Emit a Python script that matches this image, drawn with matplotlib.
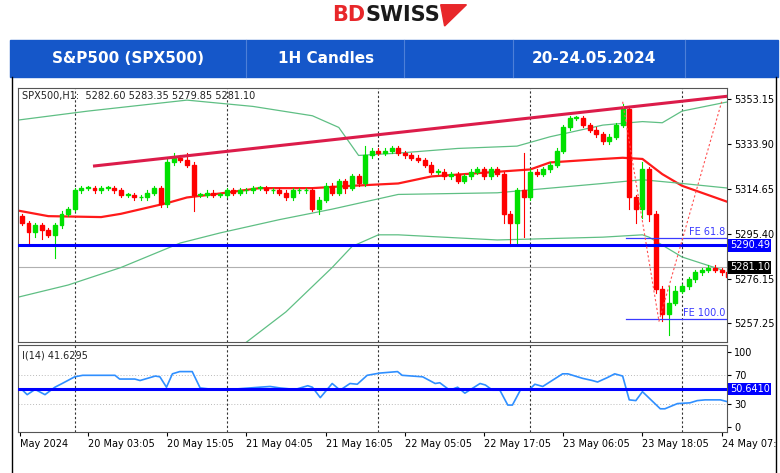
import numpy as np
import matplotlib.pyplot as plt
from matplotlib.patches import Rectangle, Polygon

# ---- candle data (hourly closes) ----
closes = [5300, 5296, 5299, 5297, 5295, 5299, 5304, 5306, 5314, 5315,
          5315, 5314, 5315, 5315, 5314, 5312, 5312, 5311, 5311, 5313,
          5315, 5308, 5326, 5328, 5327, 5325, 5312, 5312, 5313, 5312,
          5312, 5314, 5313, 5314, 5314, 5315, 5315, 5314, 5314, 5313,
          5311, 5314, 5314, 5314, 5306, 5310, 5316, 5313, 5318, 5315,
          5320, 5317, 5329, 5331, 5330, 5331, 5332, 5330, 5329, 5328,
          5327, 5325, 5322, 5322, 5320, 5321, 5318, 5320, 5322, 5323,
          5320, 5323, 5321, 5304, 5300, 5314, 5311, 5322, 5321, 5323,
          5325, 5331, 5341, 5345, 5345, 5342, 5340, 5338, 5335, 5337,
          5342, 5349, 5311, 5306, 5323, 5304, 5272, 5261, 5266, 5271,
          5273, 5276, 5279, 5280, 5281, 5280, 5279, 5277]
first_open = 5303
wick_up = [1, 1, 1, 1, 1, 1, 1, 1, 1, 1, 1, 1, 1, 1, 1, 1, 1, 1, 1, 1,
           1, 1, 2, 2, 1, 3, 1, 1, 1, 1, 1, 1, 1, 1, 1, 1, 1, 1, 1, 1,
           1, 1, 1, 1, 1, 1, 1, 1, 1, 1, 1, 1, 4, 1, 1, 1, 1, 1, 1, 1,
           1, 1, 1, 1, 1, 1, 1, 1, 1, 1, 1, 1, 1, 1, 1, 1, 16, 1, 1, 1,
           1, 1, 1, 1, 1, 1, 1, 1, 1, 1, 1, 2, 1, 1, 3, 1, 1, 1, 7, 2,
           1, 1, 1, 1, 1, 1, 1, 1]
wick_dn = [1, 5, 2, 4, 1, 10, 1, 1, 1, 1, 1, 1, 1, 1, 1, 1, 1, 1, 1, 1,
           1, 1, 1, 1, 1, 1, 7, 1, 1, 1, 1, 1, 1, 1, 1, 1, 1, 1, 1, 1,
           1, 1, 1, 1, 1, 2, 1, 1, 1, 2, 1, 1, 1, 1, 1, 1, 1, 1, 1, 1,
           1, 1, 1, 1, 1, 1, 1, 1, 1, 1, 1, 1, 1, 4, 10, 9, 17, 1, 1, 1,
           1, 1, 1, 1, 1, 1, 1, 1, 1, 1, 1, 1, 5, 6, 4, 3, 2, 3, 9, 1,
           1, 1, 1, 1, 1, 1, 1, 1]

# ---- indicator lines (sampled from the chart) ----
ma_idx = [-1, 4, 12, 15, 22, 25, 30, 36, 44, 50, 57, 62, 72, 77, 80, 88, 91, 94, 97, 100, 103, 107]
ma_val = [5305.6, 5303, 5302.6, 5304, 5308.6, 5311, 5312.7, 5315, 5315, 5316, 5317,
          5320, 5322, 5323, 5326, 5327.5, 5328, 5327.5, 5321, 5316, 5313, 5309]
bb_up_idx = [-1, 10, 25, 35, 44, 48, 51, 57, 66, 75, 80, 88, 94, 97, 100, 107]
bb_up_val = [5344, 5348, 5352.7, 5350, 5346, 5341, 5329, 5330, 5332, 5333, 5337,
             5342, 5343.5, 5343, 5348, 5352]
bb_mid_idx = [-1, 7, 15, 24, 30, 39, 47, 57, 72, 88, 94, 100, 107]
bb_mid_val = [5268, 5273.5, 5281, 5291.5, 5295.8, 5301.5, 5306, 5312.3, 5313, 5317,
              5318.6, 5317, 5315]
bb_lo_idx = [34, 40, 47, 50, 54, 57, 72, 88, 94, 95, 100, 106]
bb_lo_val = [5249, 5262, 5281, 5290, 5295, 5295, 5292.8, 5294, 5295, 5294, 5285.5, 5280]

rsi_idx = [0.1, 0.8, 2, 3.5, 5, 6.1, 8, 9.2, 14.1, 14.8, 17.1, 17.9, 20.2, 20.9, 21.9,
           22.8, 23.9, 25.8, 27, 30, 31.5, 36, 37.6, 39.1, 41.4, 43.3, 44, 45.2, 47,
           48.2, 49.7, 50.8, 52.3, 54.2, 56.9, 57.6, 60.7, 62.6, 63.3, 64.8, 66, 67.1,
           69.4, 70.2, 71.3, 72.4, 73.6, 74.3, 75.5, 77, 77.7, 78.9, 81.9, 82.7, 84.9,
           86.4, 87.2, 88.7, 89.8, 91, 92, 93, 94, 96.7, 97.4, 99.3, 101.2, 102.3,
           103.5, 105.8, 107.1]
rsi_val = [49, 43, 50, 43, 53, 58, 67, 69, 69, 64, 64, 62, 68, 67, 53, 71, 74, 74, 52,
           49, 50, 53, 54, 52, 50, 55, 53, 39, 58, 49, 58, 57, 69, 72, 74, 69, 67, 58,
           59, 49, 53, 45, 58, 56, 49, 49, 29, 29, 49, 51, 57, 54, 71, 71, 65, 62, 60,
           66, 71, 68, 36, 35, 47, 24, 24, 31, 32, 35, 36, 36, 33]

support = 5290.49
last_price = 5281.10
trend_idx = [11, 107]
trend_val = [5324.5, 5354.4]
fe_idx = [91.5, 107]
fe618 = 5293.6
fe100 = 5259.0
fe_path_idx = [91, 96.5, 106]
fe_path_val = [5352, 5258, 5352]
price_ticks = [5353.15, 5333.90, 5314.65, 5295.40, 5276.15, 5257.25]
sep_idx = [8, 31, 54, 77, 100]
date_idx = [-0.3, 10, 22, 34, 46, 58, 70, 82, 94, 106]
date_lbl = ["May 2024", "20 May 03:05", "20 May 15:05", "21 May 04:05", "21 May 16:05",
            "22 May 05:05", "22 May 17:05", "23 May 06:05", "23 May 18:05", "24 May 07:"]

fig = plt.figure(figsize=(7.8, 4.73), dpi=100)
fs = 7

# header logo
fig.text(0.468, 0.968, "BD", color="#e8272a", fontsize=15, fontweight="bold", ha="right", va="center")
fig.text(0.468, 0.968, "SWISS", color="#1a1a1a", fontsize=15, fontweight="bold", ha="left", va="center")
fig.patches.append(Polygon([[0.565, 0.99], [0.598, 0.99], [0.57, 0.945]], closed=True,
                           transform=fig.transFigure, color="#e8272a"))

# banner
fig.patches.append(Rectangle((0.013, 0.838), 0.984, 0.078, transform=fig.transFigure,
                             color="#1557c9", zorder=1))
for xs in [0.315, 0.518, 0.658, 0.878]:
    fig.lines.append(plt.Line2D([xs, xs], [0.838, 0.916], transform=fig.transFigure,
                                color="#4d7fd8", lw=0.8, zorder=2))
for xt, t in [(0.164, "S&P500 (SPX500)"), (0.418, "1H Candles"), (0.762, "20-24.05.2024")]:
    fig.text(xt, 0.877, t, color="white", fontsize=11, fontweight="bold", ha="center", va="center")
for xs in [0.016, 0.995]:
    fig.lines.append(plt.Line2D([xs, xs], [0.0, 0.838], transform=fig.transFigure, color="black", lw=1))

ax = fig.add_axes([0.023, 0.277, 0.909, 0.537])
ax2 = fig.add_axes([0.023, 0.087, 0.909, 0.184])

n = len(closes)
opens = [first_open] + closes[:-1]
for i in range(n):
    o, c = opens[i], closes[i]
    col = "#00e000" if c >= o else "#ff0000"
    hi = max(o, c) + wick_up[i]
    lo = min(o, c) - wick_dn[i]
    ax.plot([i, i], [lo, hi], color=col, lw=0.8, zorder=3)
    ax.add_patch(Rectangle((i - 0.3, min(o, c)), 0.6, max(abs(c - o), 0.4), color=col, zorder=4))

ax.plot(ma_idx, ma_val, color="#ff1a1a", lw=1.6, zorder=2)
for xi, yv in [(bb_up_idx, bb_up_val), (bb_mid_idx, bb_mid_val), (bb_lo_idx, bb_lo_val)]:
    ax.plot(xi, yv, color="#5fbf84", lw=0.9, zorder=2)
ax.plot(trend_idx, trend_val, color="#dc1c4a", lw=2.2, zorder=5)
ax.axhline(support, color="#0000ff", lw=2.2, zorder=5)
ax.axhline(last_price, color="#b0b0b0", lw=0.8, zorder=1)
ax.plot(fe_idx, [fe618, fe618], color="#3a3aff", lw=0.9, zorder=5)
ax.plot(fe_idx, [fe100, fe100], color="#3a3aff", lw=0.9, zorder=5)
ax.plot(fe_path_idx, fe_path_val, color="#ff5050", lw=0.8, ls=(0, (2, 2)), zorder=5)
ax.text(106.5, fe618 + 0.5, "FE 61.8", color="#3a3aff", fontsize=fs, ha="right", va="bottom")
ax.text(106.5, fe100 + 0.5, "FE 100.0", color="#3a3aff", fontsize=fs, ha="right", va="bottom")
ax.text(0, 5354.5, "SPX500,H1:  5282.60 5283.35 5279.85 5281.10", fontsize=fs, color="#222222", va="center")

for a in (ax, ax2):
    for s in sep_idx:
        a.axvline(s, color="#333333", lw=0.8, ls=(0, (2, 2)), zorder=1)
    a.set_xlim(-0.6, 106.8)
    a.yaxis.tick_right()
    a.tick_params(axis="y", labelsize=fs, length=3, pad=2)
    for sp in a.spines.values():
        sp.set_color("#555555")

ax.set_ylim(5249.1, 5357.9)
ax.set_yticks(price_ticks)
ax.set_yticklabels([f"{v:.2f}" for v in price_ticks])
ax.set_xticks([])
ax.text(1.004, support, f"{support:.2f}", transform=ax.get_yaxis_transform(), fontsize=fs,
        color="white", va="center", bbox=dict(boxstyle="square,pad=0.15", fc="#0000ff", ec="none"))
ax.text(1.004, last_price, f"{last_price:.2f}", transform=ax.get_yaxis_transform(), fontsize=fs,
        color="white", va="center", bbox=dict(boxstyle="square,pad=0.15", fc="black", ec="none"))

ax2.plot(rsi_idx, rsi_val, color="#2f8fff", lw=1.2, zorder=3)
ax2.axhline(50.641, color="#0000ff", lw=2.2, zorder=4)
for lvl in (70, 30):
    ax2.axhline(lvl, color="#bbbbbb", lw=0.7, ls=(0, (1, 2)))
ax2.set_ylim(-7, 110)
ax2.set_yticks([100, 70, 30, 0])
ax2.text(1.004, 50.641, "50.6410", transform=ax2.get_yaxis_transform(), fontsize=fs,
         color="white", va="center", bbox=dict(boxstyle="square,pad=0.15", fc="#0000ff", ec="none"))
ax2.text(0, 95, "I(14) 41.6295", fontsize=fs, color="#222222", va="center")
ax2.set_xticks(date_idx)
ax2.set_xticklabels(date_lbl, fontsize=fs, ha="left")
ax2.tick_params(axis="x", length=3, pad=2)

fig.savefig("out.png", dpi=100)
